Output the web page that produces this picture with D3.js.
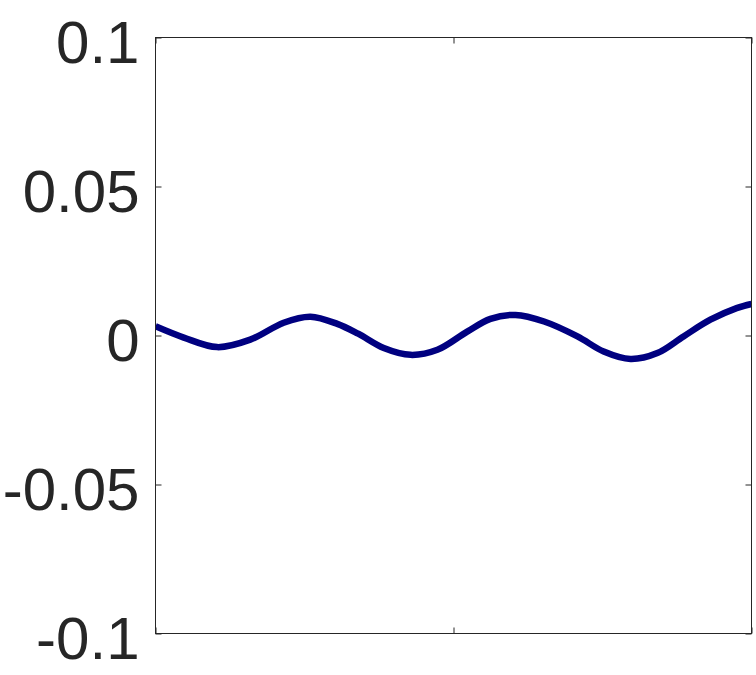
<!DOCTYPE html>
<html>
<head>
<meta charset="utf-8">
<script src="https://cdn.jsdelivr.net/npm/d3@7"></script>
<style>
  body { margin: 0; background: #fff; }
  svg { display: block; }
</style>
</head>
<body>
<div id="chart"></div>
<script>
// values
var xValues = [0, 0.0475, 0.1035, 0.159, 0.215, 0.26, 0.305, 0.34, 0.383, 0.428, 0.473, 0.523,
  0.562, 0.604, 0.652, 0.708, 0.752, 0.797, 0.842, 0.886, 0.931, 0.975, 1];
var yValues = [0.0031, -0.0007, -0.0039, -0.0014, 0.0043, 0.0063, 0.0039, 0.0006, -0.0042, -0.0065, -0.0048, 0.0013,
  0.0056, 0.0069, 0.0047, -0.0003, -0.0054, -0.0079, -0.0059, -0.0003, 0.0053, 0.0092, 0.0106];
var yTicks = [-0.1, -0.05, 0, 0.05, 0.1];
var yTickLabels = ["-0.1", "-0.05", "0", "0.05", "0.1"];
var xTicks = [0, 0.5, 1];

var width = 756, height = 675;
var axisColor = "#262626";

var svg = d3.select("#chart")
  .append("svg")
  .attr("width", width)
  .attr("height", height);

var x = d3.scaleLinear().domain([0, 1]).range([155.5, 751.5]);
var y = d3.scaleLinear().domain([-0.1, 0.1]).range([633.5, 37.5]);

var points = xValues.map(function(d, i) { return {x: d, y: yValues[i]}; });

// line first, box drawn on top of it
var line = d3.line()
  .x(function(d) { return x(d.x); })
  .y(function(d) { return y(d.y); })
  .curve(d3.curveCatmullRom.alpha(0.5));

svg.append("defs").append("clipPath").attr("id", "clip")
  .append("rect")
  .attr("x", x(0)).attr("y", y(0.1))
  .attr("width", x(1) - x(0)).attr("height", y(-0.1) - y(0.1));

svg.append("path")
  .datum(points)
  .attr("clip-path", "url(#clip)")
  .attr("d", line)
  .style("fill", "none")
  .style("stroke", "#000080")
  .style("stroke-width", 6.5);

// left axis with labels, ticks pointing in
var leftAxis = svg.append("g")
  .attr("transform", "translate(" + x(0) + ",0)")
  .call(d3.axisLeft(y)
    .tickValues(yTicks)
    .tickFormat(function(d, i) { return yTickLabels[i]; })
    .tickSizeInner(-6)
    .tickSizeOuter(0)
    .tickPadding(16));
leftAxis.select(".domain").remove();
leftAxis.selectAll("line").style("stroke", axisColor);
leftAxis.selectAll("text")
  .attr("dy", 25)
  .style("font-family", "'Liberation Sans', Arial, Helvetica, sans-serif")
  .style("font-size", "60px")
  .style("fill", axisColor);

var rightAxis = svg.append("g")
  .attr("transform", "translate(" + x(1) + ",0)")
  .call(d3.axisRight(y).tickValues(yTicks).tickFormat("").tickSizeInner(-6).tickSizeOuter(0));
rightAxis.select(".domain").remove();
rightAxis.selectAll("line").style("stroke", axisColor);

var bottomAxis = svg.append("g")
  .attr("transform", "translate(0," + y(-0.1) + ")")
  .call(d3.axisBottom(x).tickValues(xTicks).tickFormat("").tickSizeInner(-6).tickSizeOuter(0));
bottomAxis.select(".domain").remove();
bottomAxis.selectAll("line").style("stroke", axisColor);

var topAxis = svg.append("g")
  .attr("transform", "translate(0," + y(0.1) + ")")
  .call(d3.axisTop(x).tickValues(xTicks).tickFormat("").tickSizeInner(-6).tickSizeOuter(0));
topAxis.select(".domain").remove();
topAxis.selectAll("line").style("stroke", axisColor);

// box
svg.append("rect")
  .attr("x", x(0))
  .attr("y", y(0.1))
  .attr("width", x(1) - x(0))
  .attr("height", y(-0.1) - y(0.1))
  .style("fill", "none")
  .style("stroke", axisColor)
  .style("stroke-width", 1);
</script>
</body>
</html>
